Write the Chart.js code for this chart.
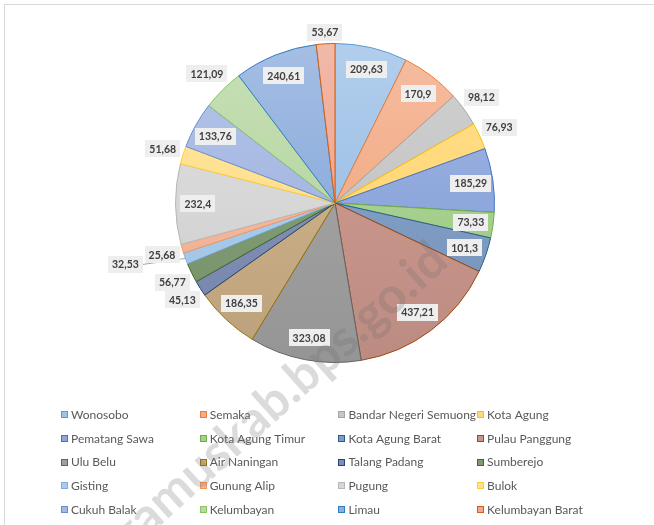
<!DOCTYPE html>
<html>
<head>
<meta charset="utf-8">
<script src="https://cdn.jsdelivr.net/npm/chart.js@4.4.0/dist/chart.umd.min.js"></script>
<style>
  html, body { margin: 0; padding: 0; background: #fff; overflow: hidden; }
  canvas { display: block; }
</style>
</head>
<body>
<canvas id="myChart" width="654" height="525"></canvas>
<script>
// Data (kecamatan, clockwise from the top)
const labels = [
    'Wonosobo', 'Semaka', 'Bandar Negeri Semuong', 'Kota Agung',
    'Pematang Sawa', 'Kota Agung Timur', 'Kota Agung Barat', 'Pulau Panggung',
    'Ulu Belu', 'Air Naningan', 'Talang Padang', 'Sumberejo',
    'Gisting', 'Gunung Alip', 'Pugung', 'Bulok',
    'Cukuh Balak', 'Kelumbayan', 'Limau', 'Kelumbayan Barat'
];
const values = [
    209.63, 170.9, 98.12, 76.93,
    185.29, 73.33, 101.3, 437.21,
    323.08, 186.35, 45.13, 56.77,
    32.53, 25.68, 232.4, 51.68,
    133.76, 121.09, 240.61, 53.67
];
const fillColors = [
    '#9fc2e7', '#f3ad89', '#c6c6c6', '#ffd877',
    '#8ea7dc', '#a6d08d', '#7f9cc3', '#c9958b',
    '#a0a0a0', '#c9ad85', '#7f8eb6', '#7f9b72',
    '#a9cbec', '#f6b79b', '#d7d7d7', '#ffe08e',
    '#a5b8e2', '#b9d8a5', '#8eaedd', '#eea793'
];
const borderColors = [
    '#5b9bd5', '#ed7d31', '#a5a5a5', '#ffc000',
    '#4472c4', '#70ad47', '#255e91', '#9e480e',
    '#636363', '#997300', '#264478', '#43682b',
    '#7cafdd', '#f1975a', '#b7b7b7', '#ffcd33',
    '#698ed0', '#8cc168', '#327dc2', '#d26012'
];
// where each data label goes: in the slice, just outside, or outside with a leader line
const labelPlace = [
    'in', 'in', 'out', 'out',
    'in', 'in', 'in', 'in',
    'in', 'in', 'out', 'out',
    'leader', 'out', 'in', 'out',
    'in', 'out', 'in', 'out'
];
const watermark = 'tanggamuskab.bps.go.id';

function mix(hex, target, t) {
    const n = parseInt(hex.slice(1), 16);
    const r = (n >> 16) & 255, g = (n >> 8) & 255, b = n & 255;
    const m = c => Math.round(c + (target - c) * t);
    return 'rgb(' + m(r) + ',' + m(g) + ',' + m(b) + ')';
}

// vertical gradient like the Excel fill
function sliceFill(ctx) {
    const chart = ctx.chart;
    const area = chart.chartArea;
    const base = fillColors[ctx.dataIndex];
    if (!area) return base;
    const g = chart.ctx.createLinearGradient(0, area.top, 0, area.bottom);
    g.addColorStop(0, mix(base, 255, 0.2));
    g.addColorStop(0.5, base);
    g.addColorStop(1, mix(base, 0, 0.07));
    return g;
}

const framePlugin = {
    id: 'frame',
    beforeDraw(chart) {
        const c = chart.ctx;
        c.save();
        c.strokeStyle = '#d9d9d9';
        c.lineWidth = 1;
        c.strokeRect(4.5, 4.5, 900, 900);
        c.restore();
    }
};

const dataLabelPlugin = {
    id: 'dataLabels',
    afterDatasetsDraw(chart) {
        const c = chart.ctx;
        const meta = chart.getDatasetMeta(0);
        c.save();
        c.font = 'bold 10.5px Lato';
        c.textAlign = 'center';
        c.textBaseline = 'middle';
        meta.data.forEach((arc, i) => {
            const p = arc.getProps(['x', 'y', 'startAngle', 'endAngle', 'outerRadius'], true);
            const mid = (p.startAngle + p.endAngle) / 2;
            const cos = Math.cos(mid), sin = Math.sin(mid);
            const r = p.outerRadius;
            const text = String(values[i]).replace('.', ',');
            const w = c.measureText(text).width + 8;
            const h = 17;
            let bx, by;
            if (labelPlace[i] === 'in') {
                bx = p.x + cos * r * 0.86;
                by = p.y + sin * r * 0.86;
            } else if (labelPlace[i] === 'out') {
                const ext = Math.abs(cos) * w / 2 + Math.abs(sin) * h / 2;
                bx = p.x + cos * (r + ext + 2);
                by = p.y + sin * (r + ext + 2);
            } else {
                const ex = p.x + cos * r, ey = p.y + sin * r;
                bx = ex - 60;
                by = ey + 6;
                c.strokeStyle = '#a6a6a6';
                c.lineWidth = 1;
                c.beginPath();
                c.moveTo(bx + w / 2, by);
                c.lineTo(ex, ey);
                c.stroke();
            }
            c.fillStyle = '#eeeeee';
            c.fillRect(Math.round(bx - w / 2), Math.round(by - h / 2), Math.round(w), h);
            c.fillStyle = '#404040';
            c.fillText(text, bx, by + 0.5);
        });
        c.restore();
    }
};

const legendPlugin = {
    id: 'gridLegend',
    afterDraw(chart) {
        const c = chart.ctx;
        const cols = 4, x0 = 61, colW = 138.7, y0 = 415, rowH = 23.75;
        c.save();
        c.font = '12px Lato';
        c.textBaseline = 'middle';
        c.textAlign = 'left';
        labels.forEach((name, i) => {
            const x = x0 + (i % cols) * colW;
            const y = y0 + Math.floor(i / cols) * rowH;
            c.fillStyle = fillColors[i];
            c.fillRect(Math.round(x), Math.round(y - 4), 7, 7);
            c.strokeStyle = borderColors[i];
            c.lineWidth = 1;
            c.strokeRect(Math.round(x) + 0.5, Math.round(y - 4) + 0.5, 6, 6);
            c.fillStyle = '#595959';
            c.fillText(name, x + 10, y);
        });
        c.restore();
    }
};

const watermarkPlugin = {
    id: 'watermark',
    afterDraw(chart) {
        const c = chart.ctx;
        c.save();
        c.font = 'bold 50px Lato';
        c.textAlign = 'left';
        c.textBaseline = 'alphabetic';
        // anchor: the "o" of "go" sits just left of the pie's lower right
        const before = c.measureText(watermark.slice(0, watermark.indexOf('go.') + 1)).width;
        const oHalf = c.measureText('o').width / 2;
        c.translate(401, 309);
        c.rotate(-42 * Math.PI / 180);
        c.fillStyle = 'rgba(110,110,110,0.25)';
        c.fillText(watermark, -before - oHalf, 0);
        c.restore();
    }
};

const myChart = new Chart(document.getElementById('myChart').getContext('2d'), {
    type: 'pie',
    data: {
        labels: labels,
        datasets: [{
            data: values,
            backgroundColor: sliceFill,
            borderColor: borderColors,
            borderWidth: 1
        }]
    },
    options: {
        responsive: false,
        animation: false,
        events: [],
        layout: {
            padding: { left: 175, right: 159, top: 43, bottom: 162 }
        },
        plugins: {
            legend: { display: false },
            tooltip: { enabled: false },
            title: { display: false }
        }
    },
    plugins: [framePlugin, dataLabelPlugin, legendPlugin, watermarkPlugin]
});
</script>
</body>
</html>
